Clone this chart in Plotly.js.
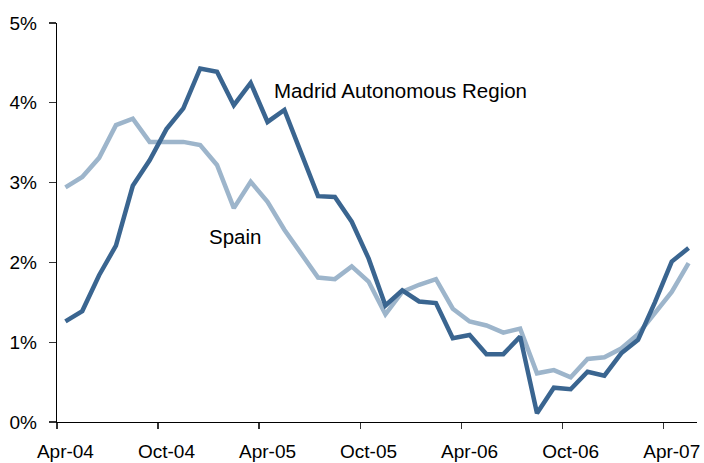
<!DOCTYPE html>
<html>
<head>
<meta charset="utf-8">
<script src="https://cdn.plot.ly/plotly-3.0.1.min.js"></script>
<style>html,body{margin:0;padding:0;background:#fff;}</style>
</head>
<body>
<div id="chart" style="width:704px;height:463px;"></div>
<script>
const months = ["Apr-04","May-04","Jun-04","Jul-04","Aug-04","Sep-04","Oct-04","Nov-04","Dec-04",
  "Jan-05","Feb-05","Mar-05","Apr-05","May-05","Jun-05","Jul-05","Aug-05","Sep-05","Oct-05","Nov-05","Dec-05",
  "Jan-06","Feb-06","Mar-06","Apr-06","May-06","Jun-06","Jul-06","Aug-06","Sep-06","Oct-06","Nov-06","Dec-06",
  "Jan-07","Feb-07","Mar-07","Apr-07","May-07"];
const madrid = [1.26,1.39,1.84,2.21,2.96,3.28,3.67,3.93,4.43,4.39,3.97,4.25,3.76,3.91,3.37,2.83,2.82,2.51,2.05,1.46,
  1.65,1.51,1.49,1.05,1.09,0.85,0.85,1.07,0.11,0.43,0.41,0.63,0.58,0.86,1.03,1.50,2.01,2.18];
const spain = [2.94,3.07,3.31,3.72,3.80,3.51,3.51,3.51,3.47,3.22,2.68,3.01,2.76,2.41,2.11,1.81,1.79,1.95,1.76,1.35,
  1.63,1.72,1.79,1.42,1.26,1.21,1.12,1.17,0.61,0.65,0.56,0.79,0.81,0.92,1.10,1.37,1.63,1.99];
const labelEvery = 6;
const seriesNames = ["Madrid Autonomous Region", "Spain"];

const idx = months.map((m, i) => i);
const labelIdx = idx.filter(i => i % labelEvery === 0);
const labelText = labelIdx.map(i => months[i]);
const boundaryIdx = labelIdx.map(i => i - 0.5);

const font = "Liberation Sans, Arial, Helvetica, sans-serif";

const traces = [
  {x: idx, y: spain, type: 'scatter', mode: 'lines', name: seriesNames[1],
   line: {color: '#9DB5CB', width: 4.5}, text: months, hoverinfo: 'text+y'},
  {x: idx, y: madrid, type: 'scatter', mode: 'lines', name: seriesNames[0],
   line: {color: '#3A6590', width: 4.5}, text: months, hoverinfo: 'text+y'}
];

const layout = {
  width: 704, height: 463,
  margin: {l: 57, r: 7, t: 23, b: 41, pad: 0},
  paper_bgcolor: '#fff', plot_bgcolor: '#fff',
  showlegend: false,
  font: {family: font, color: '#000', size: 19},
  xaxis: {
    range: [-0.5, months.length - 0.5],
    tickmode: 'array', tickvals: labelIdx, ticktext: labelText,
    ticks: '', showgrid: false, zeroline: false,
    showline: true, linecolor: '#000', linewidth: 1.3,
    tickfont: {family: font, size: 19, color: '#000'},
    ticklabelstandoff: 12,
    minor: {tickmode: 'array', tickvals: boundaryIdx, ticks: 'outside', ticklen: 6,
            tickcolor: '#333', tickwidth: 1.3, showgrid: false},
    fixedrange: true
  },
  yaxis: {
    range: [0, 5], tickmode: 'linear', tick0: 0, dtick: 1, ticksuffix: '%',
    ticks: 'outside', ticklen: 7, tickcolor: '#333', tickwidth: 1.3,
    showgrid: false, zeroline: false,
    showline: true, linecolor: '#000', linewidth: 1.3,
    tickfont: {family: font, size: 19, color: '#000'},
    ticklabelstandoff: 8,
    fixedrange: true
  },
  annotations: [
    {x: 12.26, y: 4.15, xref: 'x', yref: 'y', text: seriesNames[0], showarrow: false,
     xanchor: 'left', yanchor: 'middle', font: {family: font, size: 20.5, color: '#000'}},
    {x: 8.43, y: 2.32, xref: 'x', yref: 'y', text: seriesNames[1], showarrow: false,
     xanchor: 'left', yanchor: 'middle', font: {family: font, size: 20.5, color: '#000'}}
  ]
};

Plotly.newPlot('chart', traces, layout, {displayModeBar: false, staticPlot: true});
</script>
</body>
</html>
